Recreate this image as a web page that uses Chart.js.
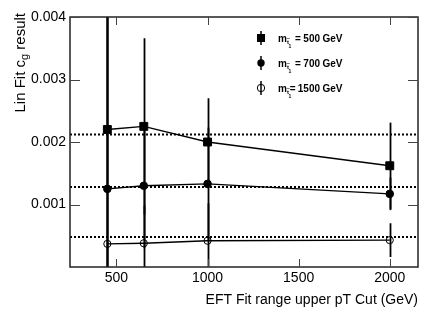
<!DOCTYPE html>
<html>
<head>
<meta charset="utf-8">
<script src="https://cdn.jsdelivr.net/npm/chart.js@4.4.1/dist/chart.umd.min.js"></script>
<style>
  html, body { margin: 0; padding: 0; background: #fff; }
  #wrap { width: 440px; height: 318px; }
</style>
</head>
<body>
<div id="wrap"><canvas id="chart"></canvas></div>
<script>
// values
const cuts = [450, 650, 1000, 2000];
const m500 = [0.00220, 0.00225, 0.00200, 0.00162];
const m500Err = [0.0050, 0.00141, 0.00070, 0.00069];
const m700 = [0.00125, 0.00130, 0.00133, 0.00117];
const m700Err = [0.0050, 0.00100, 0.00090, 0.00026];
const m1500 = [0.00037, 0.00038, 0.00042, 0.00043];
const m1500Err = [0.0050, 0.00060, 0.00060, 0.00027];
const refLines = [0.00212, 0.00128, 0.00048];
const xTicks = [500, 1000, 1500, 2000];
const yTicks = [0.001, 0.002, 0.003, 0.004];
const massLabels = ['500', '700', '1500'];

const X_MIN = 245, X_MAX = 2155;
const FONT = "'Liberation Sans', Helvetica, Arial, sans-serif";

const pts = (ys) => cuts.map((x, i) => ({ x, y: ys[i] }));
const series = [
  { ys: m500, err: m500Err, style: 'rect', radius: 5.6, fill: '#000' },
  { ys: m700, err: m700Err, style: 'circle', radius: 3.8, fill: '#000' },
  { ys: m1500, err: m1500Err, style: 'circle', radius: 3.6, fill: 'rgba(0,0,0,0)' }
];

const datasets = series.map(s => ({
  type: 'line',
  data: pts(s.ys),
  borderColor: '#000',
  borderWidth: 1.3,
  pointStyle: s.style,
  pointRadius: s.radius,
  pointBackgroundColor: s.fill,
  pointBorderColor: '#000',
  pointBorderWidth: 1,
  tension: 0
}));
refLines.forEach(v => datasets.push({
  type: 'line',
  data: [{ x: X_MIN, y: v }, { x: X_MAX, y: v }],
  borderColor: '#000',
  borderWidth: 2,
  borderDash: [2, 2],
  pointRadius: 0
}));

const rootPlot = {
  id: 'rootPlot',
  beforeDatasetsDraw(chart) {
    const { ctx, chartArea: a, scales: { x, y } } = chart;
    ctx.save();
    ctx.beginPath();
    ctx.rect(a.left, a.top, a.right - a.left, a.bottom - a.top);
    ctx.clip();
    ctx.strokeStyle = '#000';
    ctx.lineWidth = 1.8;
    series.forEach(s => {
      cuts.forEach((c, i) => {
        const px = Math.round(x.getPixelForValue(c)) + 0.5;
        ctx.beginPath();
        ctx.moveTo(px, y.getPixelForValue(s.ys[i] + s.err[i]));
        ctx.lineTo(px, y.getPixelForValue(s.ys[i] - s.err[i]));
        ctx.stroke();
      });
    });
    ctx.restore();
  },
  afterDraw(chart) {
    const { ctx, chartArea: a, scales: { x, y } } = chart;
    ctx.save();
    // frame
    ctx.strokeStyle = '#222';
    ctx.lineWidth = 1.5;
    ctx.strokeRect(a.left, a.top, a.right - a.left, a.bottom - a.top);
    // inward ticks
    ctx.strokeStyle = '#444';
    ctx.lineWidth = 1;
    yTicks.forEach(v => {
      const py = Math.round(y.getPixelForValue(v)) + 0.5;
      ctx.beginPath();
      ctx.moveTo(a.left, py); ctx.lineTo(a.left + 10, py);
      ctx.moveTo(a.right, py); ctx.lineTo(a.right - 10, py);
      ctx.stroke();
    });
    xTicks.forEach(v => {
      const px = Math.round(x.getPixelForValue(v)) + 0.5;
      ctx.beginPath();
      ctx.moveTo(px, a.bottom); ctx.lineTo(px, a.bottom - 8);
      ctx.moveTo(px, a.top); ctx.lineTo(px, a.top + 8);
      ctx.stroke();
    });

    // y title with subscript
    ctx.fillStyle = '#000';
    ctx.translate(25, 0);
    ctx.rotate(-Math.PI / 2);
    ctx.textBaseline = 'alphabetic';
    ctx.textAlign = 'left';
    ctx.font = `15px ${FONT}`;
    const p1 = 'Lin Fit c', p3 = ' result';
    const w1 = ctx.measureText(p1).width, w3 = ctx.measureText(p3).width;
    ctx.font = `11px ${FONT}`;
    const w2 = ctx.measureText('g').width;
    let tx = -(13 + w1 + w2 + w3);
    ctx.font = `15px ${FONT}`;
    ctx.fillText(p1, tx, 0);
    ctx.font = `11px ${FONT}`;
    ctx.fillText('g', tx + w1, 3);
    ctx.font = `15px ${FONT}`;
    ctx.fillText(p3, tx + w1 + w2, 0);
    ctx.setTransform(1, 0, 0, 1, 0, 0);

    // legend
    series.forEach((s, i) => {
      const ly = 38 + 25 * i, lx = 261;
      ctx.strokeStyle = '#000';
      ctx.lineWidth = 1.5;
      ctx.beginPath();
      ctx.moveTo(lx, ly - 7); ctx.lineTo(lx, ly + 7);
      ctx.stroke();
      ctx.lineWidth = 1;
      ctx.fillStyle = '#000';
      if (s.style === 'rect') {
        ctx.fillRect(lx - 4, ly - 4, 8, 8);
      } else {
        ctx.beginPath();
        ctx.arc(lx, ly, 3.7, 0, Math.PI * 2);
        if (s.fill === '#000') ctx.fill(); else ctx.stroke();
      }
      ctx.fillStyle = '#000';
      ctx.textAlign = 'left';
      ctx.font = `bold 10px ${FONT}`;
      ctx.fillText('m', 278, ly + 4);
      ctx.font = `bold 6px ${FONT}`;
      ctx.fillText('t', 287, ly + 6);
      ctx.fillText('~', 286.5, ly + 2);
      ctx.font = `bold 5px ${FONT}`;
      ctx.fillText('1', 288.5, ly + 10);
      ctx.font = `bold 10px ${FONT}`;
      const numLeft = 320 - ctx.measureText(massLabels[i]).width;
      ctx.fillText('=', Math.min(295, numLeft - 8), ly + 4);
      ctx.textAlign = 'right';
      ctx.fillText(massLabels[i], 320, ly + 4);
      ctx.textAlign = 'left';
      ctx.fillText('GeV', 322.5, ly + 4);
    });
    ctx.restore();
  }
};

new Chart(document.getElementById('chart'), {
  data: { datasets },
  options: {
    responsive: true,
    maintainAspectRatio: false,
    animation: false,
    layout: { padding: { top: 17, right: 22, left: 0, bottom: 0 } },
    plugins: { legend: { display: false }, tooltip: { enabled: false } },
    scales: {
      x: {
        type: 'linear',
        min: X_MIN,
        max: X_MAX,
        afterBuildTicks: (s) => { s.ticks = xTicks.map(v => ({ value: v })); },
        afterFit: (s) => { s.height = 51; },
        grid: { display: false, drawTicks: false },
        border: { display: false },
        ticks: {
          color: '#000',
          padding: 3,
          maxRotation: 0,
          font: { size: 14, family: FONT },
          callback: (v) => String(v)
        },
        title: {
          display: true,
          align: 'end',
          text: 'EFT Fit range upper pT Cut (GeV)',
          color: '#000',
          font: { size: 14, family: FONT },
          padding: { top: 0, bottom: 9 }
        }
      },
      y: {
        type: 'linear',
        min: 0,
        max: 0.004,
        afterBuildTicks: (s) => { s.ticks = yTicks.map(v => ({ value: v })); },
        afterFit: (s) => { s.width = 70; },
        grid: { display: false, drawTicks: false },
        border: { display: false },
        ticks: {
          color: '#000',
          padding: 4,
          font: { size: 14, family: FONT },
          callback: (v) => v.toFixed(3)
        }
      }
    }
  },
  plugins: [rootPlot]
});
</script>
</body>
</html>
